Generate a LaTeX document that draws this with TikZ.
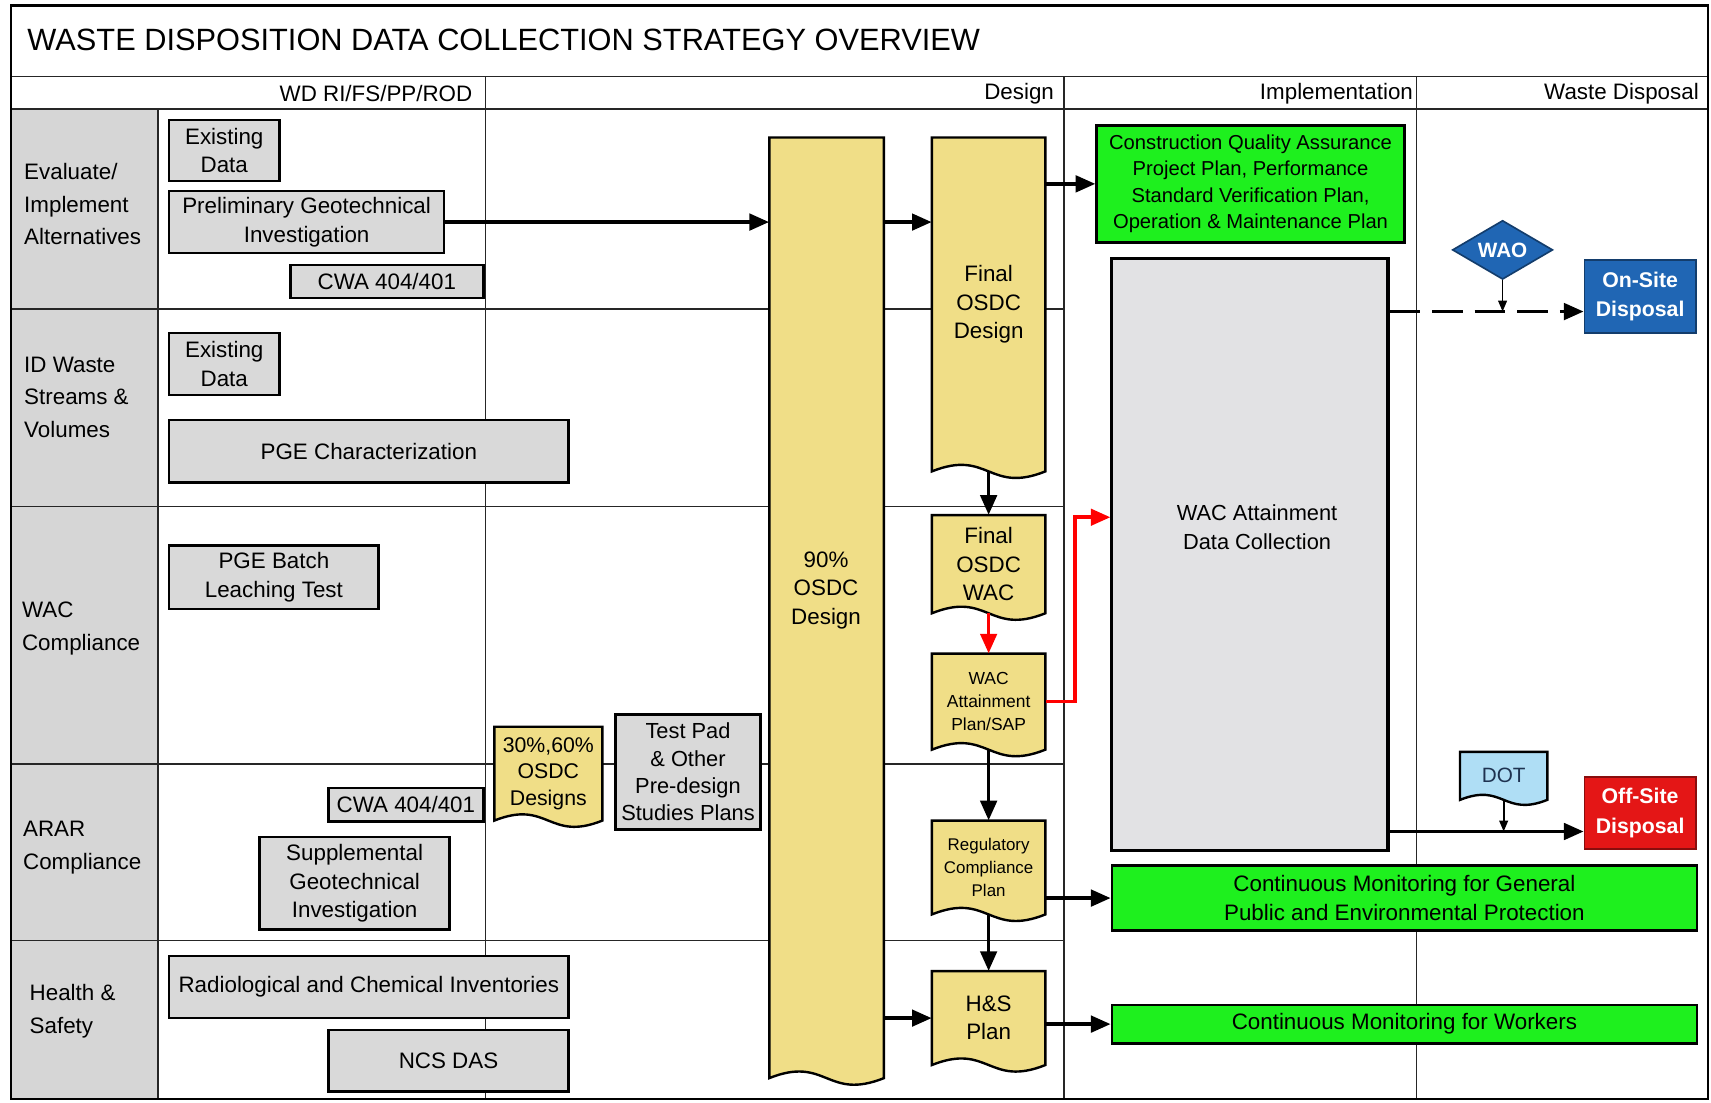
\documentclass[tikz,border=0pt]{standalone}
\usepackage{fontspec}
\setmainfont{Liberation Sans}
\usetikzlibrary{arrows.meta,calc,shapes.geometric}
\definecolor{docyellow}{RGB}{240,222,135}
\definecolor{boxgray}{RGB}{217,217,217}
\definecolor{lanegray}{RGB}{214,214,214}
\definecolor{wdcgray}{RGB}{226,226,228}
\definecolor{brightgreen}{RGB}{30,240,30}
\definecolor{diskblue}{RGB}{32,102,180}
\definecolor{diskred}{RGB}{228,22,22}
\definecolor{dotblue}{RGB}{175,222,245}
\definecolor{dottext}{RGB}{30,50,80}
\newcommand{\fs}[2]{\fontsize{#1}{#2}\selectfont}
\tikzset{
  lane/.style={line width=1.5pt, draw=black!85},
  boxbase/.style={draw=black, line width=2.4pt, align=center, inner sep=0pt},
  graybox/.style={boxbase, fill=boxgray, font=\fs{20.5}{26}},
  greenbox/.style={boxbase, fill=brightgreen},
  docline/.style={draw=black, line width=2.2pt},
  arr/.style={line width=3.3pt, -{Triangle[length=18pt,width=15pt]}},
  redarr/.style={arr, draw=red},
  thinarr/.style={line width=1.6pt, -{Triangle[length=10pt,width=8pt]}},
  rowlabel/.style={anchor=west, align=left, inner sep=0pt, font=\fs{20.5}{30}},
  headlabel/.style={anchor=east, inner sep=0pt, font=\fs{20.5}{24}},
}
% name, x1, y1, x2, y2, style, text
\newcommand{\bx}[7]{\node[#6, minimum width={#4-#2}, minimum height={#5-#3}] (#1) at ({(#2+#4)/2},{(#3+#5)/2}) {#7};}
% document shape: name, x1, y1, x2, ybase, fill, node style, text
\newcommand{\docbox}[8]{%
  \pgfmathsetmacro{\dw}{#4-#2}%
  \pgfmathsetmacro{\dc}{0.2*\dw}%
  \filldraw[docline, fill=#6] (#2,#3) -- (#4,#3) -- (#4,#5) .. controls ({(#2+#4)/2},{#5+\dc}) and ({(#2+#4)/2},{#5-\dc}) .. (#2,#5) -- cycle;
  \node[inner sep=0pt, align=center, minimum width={\dw}, minimum height={#5-#3}, #7] (#1) at ({(#2+#4)/2},{(#3+#5)/2}) {#8};}
\begin{document}
\begin{tikzpicture}[x=1pt,y=-1pt]
\useasboundingbox (0,0) rectangle (1568,1010);
\fill[white] (0,0) rectangle (1568,1010);
% swimlane frame
\fill[lanegray] (10,100) rectangle (145,1007);
\draw[lane] (10,70) -- (1565,70);
\draw[lane] (10,100) -- (1565,100);
\draw[lane] (145,100) -- (145,1007);
\draw[lane] (445,70) -- (445,1007);
\draw[lane] (975,70) -- (975,1007);
\draw[lane] (1298,70) -- (1298,1007);
\foreach \yy in {283,464,700,862} \draw[lane] (10,\yy) -- (975,\yy);
\draw[line width=2pt] (10,5) rectangle (1565,1007);
% title and headers
\node[anchor=west, inner sep=0pt, font=\fs{28.2}{30}] (title) at (25,37) {WASTE DISPOSITION DATA COLLECTION STRATEGY OVERVIEW};
\node[headlabel] (h1) at (433,86) {WD RI/FS/PP/ROD};
\node[headlabel] (h2) at (966,86) {Design};
\node[headlabel] (h3) at (1295,86) {Implementation};
\node[headlabel] (h4) at (1557,86) {Waste Disposal};
% row labels
\node[rowlabel] (r1) at (22,187) {Evaluate/\\Implement\\Alternatives};
\node[rowlabel] (r2) at (22,364) {ID Waste\\Streams \&\\Volumes};
\node[rowlabel] (r3) at (20,576) {WAC\\Compliance};
\node[rowlabel] (r4) at (21,777) {ARAR\\Compliance};
\node[rowlabel] (r5) at (27,927) {Health \&\\Safety};
% gray boxes
\bx{ed1}{155}{110}{256}{166}{graybox}{Existing\\Data}
\bx{pgi}{155}{175}{407}{232}{graybox}{Preliminary Geotechnical\\Investigation}
\bx{cwa1}{266}{243}{443}{273}{graybox}{CWA 404/401}
\bx{ed2}{155}{305}{256}{362}{graybox}{Existing\\Data}
\bx{pgec}{155}{385}{521}{442}{graybox}{PGE Characterization}
\bx{pgeb}{155}{500}{347}{558}{graybox}{PGE Batch\\Leaching Test}
\bx{cwa2}{301}{722}{443}{753}{graybox}{CWA 404/401}
\bx{sgi}{238}{767}{412}{852}{graybox}{Supplemental\\Geotechnical\\Investigation}
\bx{rci}{155}{876}{521}{933}{graybox}{Radiological and Chemical Inventories}
\bx{ncs}{301}{944}{521}{1000}{graybox}{NCS DAS}
\bx{tpad}{564}{655}{697}{760}{graybox, font=\fs{20}{25}}{Test Pad\\\& Other\\Pre-design\\Studies Plans}
% document shapes
\docbox{d3060}{453}{666}{552}{752}{docyellow}{font=\fs{19.5}{24.5}}{30\%,60\%\\OSDC\\Designs}
\docbox{col90}{705}{126}{810}{988}{docyellow}{}{}
\node[inner sep=0pt, align=center, font=\fs{20.5}{26}] (col90t) at (757,541) {90\%\\OSDC\\Design};
\docbox{fod}{854}{126}{958}{432}{docyellow}{font=\fs{20.5}{26}}{Final\\OSDC\\Design}
\docbox{fow}{854}{472}{958}{562}{docyellow}{font=\fs{20.5}{26}}{Final\\OSDC\\WAC}
\docbox{wap}{854}{599}{958}{687}{docyellow}{font=\fs{16}{21}}{WAC\\Attainment\\Plan/SAP}
\docbox{rcp}{854}{752}{958}{838}{docyellow}{font=\fs{15.5}{21}}{Regulatory\\Compliance\\Plan}
\docbox{hsp}{854}{890}{958}{976}{docyellow}{font=\fs{20.5}{26}}{H\&S\\Plan}
% implementation column
\bx{cqa}{1005}{115}{1287}{222}{greenbox, font=\fs{18.5}{24}}{Construction Quality Assurance\\Project Plan, Performance\\Standard Verification Plan,\\Operation \& Maintenance Plan}
\bx{wdc}{1019}{237}{1272}{779}{boxbase, line width=2.8pt, fill=wdcgray}{}
\node[inner sep=0pt, align=center, font=\fs{20}{26}] (wdct) at (1152,483) {WAC Attainment\\Data Collection};
\bx{cmg}{1019}{793}{1555}{853}{greenbox, font=\fs{20.5}{26}}{Continuous Monitoring for General\\Public and Environmental Protection}
\bx{cmw}{1019}{921}{1555}{956}{greenbox, font=\fs{20.5}{26}}{Continuous Monitoring for Workers}
% waste disposal column
\node[diamond, aspect=1.7, draw=diskblue!60!black, line width=1.5pt, fill=diskblue, text=white, font=\bfseries\fs{19}{22}, minimum width=92, minimum height=54, inner sep=0pt] (wao) at (1377,229) {WAO};
\bx{onsite}{1452}{238}{1554}{305}{boxbase, line width=1.5pt, draw=diskblue!60!black, fill=diskblue, text=white, font=\bfseries\fs{19.5}{27}}{On-Site\\Disposal}
\bx{offsite}{1452}{712}{1554}{778}{boxbase, line width=1.5pt, draw=diskred!60!black, fill=diskred, text=white, font=\bfseries\fs{19.5}{27}}{Off-Site\\Disposal}
\docbox{dot}{1338}{689}{1418}{733}{dotblue}{font=\fs{19}{22}, text=dottext}{DOT}
% connectors
\draw[arr] (pgi.east) -- (pgi.east -| col90.west);
\draw[arr] (col90.east |- pgi.east) -- (fod.west |- pgi.east);
\draw[arr] (fod.east |- cqa.west) -- (cqa.west);
\draw[arr] (fod.south) -- (fow.north);
\draw[redarr] (fow.south) -- (wap.north);
\draw[redarr] (wap.east) -- ([xshift=27pt]wap.east) |- ([yshift=34pt]wdc.west);
\draw[arr] (wap.south) -- (rcp.north);
\draw[arr] (rcp.south) -- (hsp.north);
\draw[arr] (col90.east |- hsp.west) -- (hsp.west);
\draw[arr] (rcp.east |- cmg.west) -- (cmg.west);
\draw[arr] (hsp.east |- cmw.west) -- (cmw.west);
\coordinate (onin) at ([yshift=-14pt]onsite.west);
\coordinate (offin) at ([yshift=-17pt]offsite.west);
\draw[arr, dash pattern=on 28pt off 11pt] (wdc.east |- onin) -- (onin);
\draw[thinarr] (wao.south) -- (wao.south |- onin);
\draw[arr] (wdc.east |- offin) -- (offin);
\draw[thinarr] (dot.south) -- (dot.south |- offin);
\end{tikzpicture}
\end{document}
